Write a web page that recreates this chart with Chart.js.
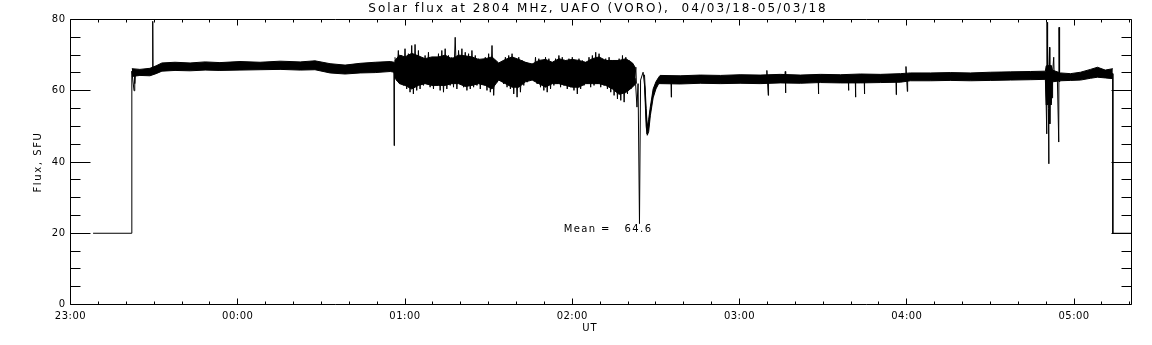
<!DOCTYPE html>
<html><head><meta charset="utf-8">
<script src="https://cdn.jsdelivr.net/npm/chart.js@4/dist/chart.umd.min.js"></script>
<style>html,body{margin:0;padding:0;background:#fff}canvas{display:block}</style>
</head><body>
<canvas id="c" width="1152" height="345"></canvas>
<script>
// ---- text ----
const titleText = 'Solar flux at 2804 MHz, UAFO (VORO),  04/03/18-05/03/18';
const xAxisLabel = 'UT';
const yAxisLabel = 'Flux, SFU';
const meanLabel = 'Mean =   64.6';
const meanAt = [176.9, 21.0];          // minutes since 23:00, SFU
const startHour = 23;                   // x value 0 == 23:00 UT
const xRange = [0, 380.6];              // minutes
const yRange = [0, 80];                 // SFU
const xMajor = 60, xMinor = 10, yMajor = 20, yMinor = 5;

// ---- dense core of the signal (minutes since 23:00, upper / lower SFU) ----
const bandT  = [22.0,24.9,28.5,30.7,32.8,37.5,42.9,48.3,53.6,60.8,68.0,75.2,82.4,87.7,93.1,98.5,103.9,109.3,114.7,116.1,
  116.4,118.0,120.0,122.4,124.8,127.2,129.6,132.0,134.4,136.8,139.2,141.6,144.0,146.4,148.8,151.2,153.6,156.0,158.4,160.8,
  163.2,165.6,168.0,170.4,172.8,175.2,177.6,180.0,182.4,184.8,187.2,189.6,192.0,194.4,196.8,199.2,201.6,202.6,
  204.0,
  205.9,206.5,206.9,207.4,208.0,209.0,210.0,211.0,
  211.5,218.7,225.9,233.1,240.2,247.4,254.6,261.8,269.0,276.2,283.4,290.5,297.7,301.3,308.5,315.6,322.8,330.0,337.2,344.3,349.7,
  350.0,351.8,352.2,355.1,358.7,362.3,365.9,368.4,371.2,373.9];
const bandHi = [66.2,66.0,66.3,67.0,67.8,68.0,67.8,68.1,67.9,68.2,68.0,68.3,68.1,68.4,67.6,67.2,67.7,68.0,68.2,68.0,
  68.5,70.0,69.5,70.5,69.8,69.0,69.5,69.5,70.0,69.0,70.0,69.8,69.5,68.8,69.0,69.5,67.8,68.8,69.5,68.8,
  68.0,67.5,68.5,68.8,68.0,69.0,68.5,68.8,68.5,68.0,69.0,69.5,68.5,68.5,68.5,69.0,67.8,66.5,
  null,
  64.5,55.0,50.0,52.0,55.5,60.5,62.5,63.8,
  64.3,64.2,64.4,64.3,64.5,64.4,64.6,64.4,64.6,64.5,64.7,64.6,64.8,65.0,65.0,65.1,65.0,65.2,65.3,65.4,65.5,
  67.0,67.1,65.8,65.0,64.8,65.2,66.0,66.6,65.8,66.2];
const bandLo = [64.0,64.3,64.2,64.8,65.5,65.7,65.6,65.8,65.7,65.8,65.9,66.0,65.8,65.9,65.0,64.7,65.0,65.1,65.4,65.2,
  63.5,62.0,61.5,60.5,61.5,62.0,61.5,61.5,61.5,62.0,62.0,61.2,61.5,62.0,61.5,60.5,63.0,62.0,61.0,61.0,
  62.5,63.0,62.0,61.0,62.0,62.0,61.5,61.0,61.0,62.0,62.0,62.0,61.5,60.5,59.0,59.5,61.0,62.0,
  null,
  62.0,50.0,47.5,48.5,53.0,58.0,60.5,62.0,
  62.0,61.9,62.1,62.0,62.1,62.0,62.2,62.1,62.3,62.2,62.2,62.3,62.4,62.8,62.8,62.9,62.8,62.9,63.0,63.1,63.2,
  56.0,56.5,62.5,62.8,62.9,63.0,63.5,63.8,63.6,63.4];

// ---- noisy interval 00:56-02:23: upper / lower excursion tips ----
const tipHiT = [116.4,117.6,118.8,120.0,121.2,122.4,123.6,124.8,126.0,127.2,128.4,129.6,130.8,132.0,133.2,134.4,135.6,136.8,
  138.0,139.2,140.4,141.6,142.8,144.0,145.2,146.4,147.6,148.8,150.0,151.2,152.4,153.6,154.8,156.0,157.2,158.4,159.6,160.8,
  162.0,163.2,164.4,165.6,166.8,168.0,169.2,170.4,171.6,172.8,174.0,175.2,176.4,177.6,178.8,180.0,181.2,182.4,183.6,184.8,
  186.0,187.2,188.4,189.6,190.8,192.0,193.2,194.4,195.6,196.8,198.0,199.2,200.4,201.6,202.8];
const tipHi = [69.4,71.3,69.9,71.8,70.4,72.7,73.0,71.3,69.0,69.9,70.8,69.0,68.5,70.4,71.3,71.8,69.9,69.4,
  75.0,71.3,71.8,70.8,70.4,71.3,69.9,69.0,68.5,69.4,70.4,72.7,68.5,67.6,68.0,69.4,69.9,70.4,69.0,69.4,
  68.5,68.0,67.6,67.6,69.4,69.0,68.5,69.4,69.0,68.0,69.0,69.9,69.4,68.5,69.0,69.4,68.5,69.0,68.5,68.0,
  69.4,69.9,70.8,70.4,68.0,69.0,69.4,68.5,68.0,69.0,69.9,69.4,68.5,67.6,66.6];
const tipLoT = [117.0,118.2,119.4,120.6,121.8,123.0,124.2,125.4,126.6,127.8,129.0,130.2,131.4,132.6,133.8,135.0,136.2,137.4,
  138.6,139.8,141.0,142.2,143.4,144.6,145.8,147.0,148.2,149.4,150.6,151.8,153.0,154.2,155.4,156.6,157.8,159.0,160.2,161.4,
  162.6,163.8,165.0,166.2,167.4,168.6,169.8,171.0,172.2,173.4,174.6,175.8,177.0,178.2,179.4,180.6,181.8,183.0,184.2,185.4,
  186.6,187.8,189.0,190.2,191.4,192.6,193.8,195.0,196.2,197.4,198.6,199.8,201.0,202.2,203.0];
const tipLo = [62.9,61.9,61.5,60.5,59.6,59.1,60.1,60.5,61.5,61.9,61.0,60.5,61.9,60.1,59.6,60.5,61.5,61.0,
  60.5,61.9,61.0,60.1,60.5,61.0,61.5,60.5,61.9,60.1,59.6,58.7,62.4,62.9,61.9,61.0,60.5,59.1,58.2,59.6,
  61.5,62.4,62.9,62.9,61.9,61.0,60.1,59.6,60.5,61.5,61.9,61.0,61.5,60.5,61.0,60.1,59.1,60.5,61.5,61.9,
  61.0,61.5,61.9,61.0,61.5,60.5,59.6,58.7,57.7,57.3,56.8,59.1,60.5,61.5,62.0];

// ---- main trace incl. spikes, steps and dips ----
const traceT = [8.1,22.0,22.0,22.8,23.0,23.1,23.3,29.4,29.5,29.6,60.0,116.0,116.1,116.2,202.6,203.2,203.6,204.1,204.5,205.4,
  206.0,206.8,207.3,208.0,209.0,210.4,211.5,215.4,215.5,215.6,249.7,249.8,250.3,250.4,256.3,256.4,256.5,256.6,268.2,268.3,
  268.4,279.0,279.1,279.2,281.5,281.6,281.7,284.7,284.8,284.9,296.1,296.2,296.3,299.6,299.7,300.2,300.3,349.7,
  349.8,350.2,350.3,350.4,350.6,350.8,350.9,351.0,351.2,351.3,351.5,351.7,351.9,352.1,352.3,352.7,352.9,353.5,354.0,354.5,
  354.6,354.8,355.2,373.9,373.9,380.6];
const traceV = [20,20,65.5,60.0,65.0,62.0,65.2,65.5,79.5,65.8,66.8,66.6,44.6,66.5,63.5,55.4,62.0,22.7,63.0,65.2,
  61.0,47.9,49.5,54.5,59.2,62.0,63.2,63.1,58.2,63.1,63.2,65.7,58.7,63.2,63.3,65.4,59.4,63.3,63.3,59.1,
  63.3,63.4,60.1,63.4,63.4,58.2,63.4,63.4,59.1,63.4,63.5,58.9,63.5,63.6,66.8,59.8,63.8,64.3,
  64.0,47.9,79.2,60.0,67.0,55.0,39.5,66.0,72.2,50.7,66.5,56.0,67.0,58.0,65.0,69.4,63.0,64.5,63.5,45.6,
  77.8,62.5,64.5,64.8,20,20];

const pts = (xs, ys) => xs.map((x, i) => ({x, y: ys[i]}));
// zig-zag through the excursion tips, in time order
const zigzag = [];
tipHiT.forEach((t, i) => { zigzag.push({x: t, y: tipHi[i]}); zigzag.push({x: tipLoT[i], y: tipLo[i]}); });

const hhmm = v => { const tot = startHour*60 + v; const h = Math.floor(tot/60)%24, m = Math.round(tot%60);
  return String(h).padStart(2,'0') + ':' + String(m).padStart(2,'0'); };

Chart.defaults.font.family = 'DejaVu Sans';
Chart.defaults.color = '#000';

const spacing = {
  id: 'spacing',
  beforeDraw(chart) { chart.ctx.letterSpacing = '0.5px'; }
};

const frame = {
  id: 'frame',
  afterDraw(chart) {
    const {ctx, chartArea: a, scales: {x, y}} = chart;
    ctx.save();
    ctx.strokeStyle = '#000'; ctx.lineWidth = 1;
    ctx.beginPath();
    ctx.rect(a.left, a.top, a.right - a.left, a.bottom - a.top);
    for (let v = xRange[0]; v <= xRange[1]; v += xMinor) {
      const px = Math.round(x.getPixelForValue(v) - 0.5) + 0.5;
      const len = (v % xMajor === 0) ? 6 : 3;
      ctx.moveTo(px, a.bottom); ctx.lineTo(px, a.bottom - len);
      ctx.moveTo(px, a.top); ctx.lineTo(px, a.top + len);
    }
    for (let v = yRange[0]; v <= yRange[1]; v += yMinor) {
      const py = Math.round(y.getPixelForValue(v) - 0.5) + 0.5;
      const len = (v % yMajor === 0) ? 20 : 10;
      ctx.moveTo(a.left, py); ctx.lineTo(a.left + len, py);
      ctx.moveTo(a.right, py); ctx.lineTo(a.right - len, py);
    }
    ctx.stroke();
    ctx.fillStyle = '#000';
    ctx.textBaseline = 'middle';
    ctx.textAlign = 'center';
    ctx.font = '12px "DejaVu Sans"';
    ctx.letterSpacing = '2px';
    ctx.fillText(titleText, 598, 9);
    ctx.font = '10px "DejaVu Sans"';
    ctx.letterSpacing = '1px';
    ctx.fillText(xAxisLabel, 590, 328);
    ctx.letterSpacing = '1.4px';
    ctx.textAlign = 'left';
    ctx.fillText(meanLabel, x.getPixelForValue(meanAt[0]), y.getPixelForValue(meanAt[1]));
    ctx.translate(38, (a.top + a.bottom) / 2);
    ctx.rotate(-Math.PI / 2);
    ctx.textAlign = 'center';
    ctx.letterSpacing = '1.6px';
    ctx.fillText(yAxisLabel, 0, 0);
    ctx.restore();
  }
};

new Chart(document.getElementById('c'), {
  type: 'line',
  data: {
    datasets: [
      {data: pts(bandT, bandHi), borderColor: '#000', backgroundColor: '#000', borderWidth: 1, pointRadius: 0, fill: '+1', spanGaps: false},
      {data: pts(bandT, bandLo), borderColor: '#000', backgroundColor: '#000', borderWidth: 1, pointRadius: 0, fill: false, spanGaps: false},
      {data: zigzag, borderColor: '#000', borderWidth: 1, pointRadius: 0, fill: false},
      {data: pts(traceT, traceV), borderColor: '#000', borderWidth: 1, pointRadius: 0, fill: false}
    ]
  },
  options: {
    responsive: false, animation: false, events: [],
    layout: {padding: {left: 0, right: 20.5, top: 19.5, bottom: 0}},
    plugins: {legend: {display: false}, tooltip: {enabled: false}, title: {display: false}},
    scales: {
      x: {type: 'linear', min: xRange[0], max: xRange[1],
          grid: {display: false, drawTicks: false}, border: {display: false},
          afterFit: s => { s.height = 40.5; },
          ticks: {stepSize: xMajor, includeBounds: false, autoSkip: false, maxRotation: 0, padding: 6,
                  font: {size: 10}, callback: v => hhmm(v)}},
      y: {type: 'linear', min: yRange[0], max: yRange[1],
          grid: {display: false, drawTicks: false}, border: {display: false},
          afterFit: s => { s.width = 70.5; },
          ticks: {stepSize: yMajor, padding: 5, font: {size: 10}}}
    }
  },
  plugins: [spacing, frame]
});
</script>
</body></html>
